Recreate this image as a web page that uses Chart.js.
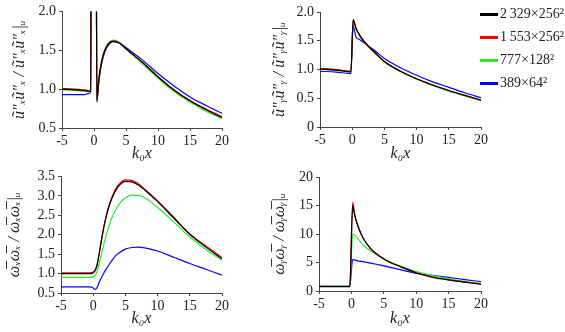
<!DOCTYPE html>
<html><head><meta charset="utf-8">
<script src="https://cdn.jsdelivr.net/npm/chart.js@4.4.1/dist/chart.umd.min.js"></script>
<style>
html,body{margin:0;padding:0;background:#fff;width:565px;height:332px;overflow:hidden;}
.box{position:absolute;}
.leg{position:absolute;font-family:"Liberation Serif","DejaVu Serif","Noto Serif",Times,FreeSerif,serif;font-size:14px;color:#222;line-height:14px;white-space:nowrap}
.legline{position:absolute;height:3px;width:18px}
</style></head><body>
<div class="box" style="left:0;top:0;width:280px;height:165px"><canvas id="c1" width="280" height="165"></canvas></div>
<div class="box" style="left:262px;top:0;width:303px;height:165px"><canvas id="c2" width="303" height="165"></canvas></div>
<div class="box" style="left:0;top:165px;width:280px;height:167px"><canvas id="c3" width="280" height="167"></canvas></div>
<div class="box" style="left:262px;top:165px;width:303px;height:167px"><canvas id="c4" width="303" height="167"></canvas></div>
<div id="legend"></div>
<script>
// ---- series / legend ----
const seriesNames = ['2\u2009329×256²', '1\u2009553×256²', '777×128²', '389×64²'];
const seriesColors = ['#000000', '#ff0000', '#22ee22', '#0000ff'];

// ---- ticks ----
const xTickValues = [-5, 0, 5, 10, 15, 20];
const xTickLabels = ['-5', '0', '5', '10', '15', '20'];
const yTicksA = [0.5, 1.0, 1.5, 2.0];
const yLabelsA = ['0.5', '1.0', '1.5', '2.0'];
const yTicksB = [0, 0.5, 1.0, 1.5, 2.0];
const yLabelsB = ['0', '0.5', '1.0', '1.5', '2.0'];
const yTicksC = [0.5, 1.0, 1.5, 2.0, 2.5, 3.0, 3.5];
const yLabelsC = ['0.5', '1.0', '1.5', '2.0', '2.5', '3.0', '3.5'];
const yTicksD = [0, 5, 10, 15, 20];
const yLabelsD = ['0', '5', '10', '15', '20'];

// ---- panel A: u''x u''x ----
const xA = [-5, -3, -1.5, -0.8, -0.5, -0.45, 0.3, 0.45, 0.7, 1.0, 1.4, 1.9, 2.5, 3.0, 4.0, 5.0, 6.0, 7.5, 10, 12.5, 15, 17.5, 20];
const blackA = [1.00, 0.99, 0.98, 0.975, 0.97, 4, 4, 0.86, 1.08, 1.27, 1.43, 1.54, 1.60, 1.615, 1.59, 1.52, 1.45, 1.35, 1.16, 0.99, 0.85, 0.735, 0.635];
const redA   = [1.01, 1.00, 0.99, 0.98, 0.975, 4, 4, 0.85, 1.07, 1.26, 1.42, 1.53, 1.60, 1.62, 1.59, 1.52, 1.45, 1.35, 1.16, 0.99, 0.855, 0.745, 0.645];
const greenA = [0.99, 0.985, 0.975, 0.97, 0.97, 4, 4, 0.86, 1.09, 1.28, 1.44, 1.55, 1.615, 1.63, 1.60, 1.52, 1.44, 1.33, 1.14, 0.97, 0.835, 0.715, 0.62];
const blueA  = [0.93, 0.93, 0.93, 0.945, 0.965, 4, 4, 0.83, 1.05, 1.24, 1.40, 1.52, 1.59, 1.61, 1.595, 1.535, 1.47, 1.38, 1.20, 1.04, 0.90, 0.79, 0.69];

// ---- panel B: u''y u''y ----
const xB = [-5, -2.5, -0.2, 0.15, 0.6, 1.0, 1.5, 2.5, 3.5, 5, 7.5, 10, 12.5, 15, 17.5, 20];
const blackB = [1.01, 0.99, 0.96, 1.87, 1.72, 1.63, 1.54, 1.41, 1.30, 1.14, 0.97, 0.84, 0.73, 0.635, 0.55, 0.47];
const redB   = [1.02, 1.00, 0.97, 1.86, 1.71, 1.62, 1.53, 1.40, 1.29, 1.14, 0.97, 0.84, 0.73, 0.635, 0.55, 0.465];
const greenB = [1.01, 0.99, 0.965, 1.86, 1.71, 1.62, 1.53, 1.40, 1.29, 1.13, 0.96, 0.83, 0.72, 0.625, 0.54, 0.455];
const blueB  = [0.97, 0.955, 0.93, 1.76, 1.56, 1.53, 1.49, 1.41, 1.33, 1.19, 1.03, 0.90, 0.785, 0.69, 0.595, 0.51];

// ---- panel C: wx wx ----
const xC = [-5, -2.5, -0.5, 0, 0.3, 0.6, 1.0, 1.5, 2.0, 2.5, 3.0, 3.5, 4.0, 5.0, 6.0, 7.0, 8.0, 10, 12.5, 15, 17.5, 20];
const blackC = [1.00, 1.00, 1.00, 1.02, 1.08, 1.22, 1.58, 2.06, 2.45, 2.75, 2.97, 3.14, 3.26, 3.37, 3.36, 3.28, 3.15, 2.85, 2.43, 2.01, 1.68, 1.38];
const redC   = [1.02, 1.02, 1.02, 1.04, 1.09, 1.22, 1.58, 2.07, 2.47, 2.78, 3.00, 3.18, 3.30, 3.41, 3.40, 3.31, 3.17, 2.87, 2.45, 2.02, 1.71, 1.41];
const greenC = [0.90, 0.90, 0.90, 0.92, 0.96, 1.06, 1.30, 1.65, 1.97, 2.25, 2.47, 2.64, 2.78, 2.95, 3.02, 3.01, 2.95, 2.70, 2.33, 1.94, 1.62, 1.34];
const blueC  = [0.66, 0.66, 0.66, 0.63, 0.59, 0.64, 0.80, 0.97, 1.11, 1.24, 1.36, 1.46, 1.53, 1.63, 1.67, 1.68, 1.66, 1.58, 1.42, 1.26, 1.11, 0.96];

// ---- panel D: wy wy ----
const xD = [-5, -2.5, -0.25, 0.2, 0.5, 1.0, 1.5, 2.0, 3.0, 4.0, 5.0, 6.0, 7.5, 10, 12.5, 15, 17.5, 20];
const blackD = [0.8, 0.8, 0.8, 15.0, 13.3, 11.4, 10.0, 8.9, 7.4, 6.4, 5.6, 5.0, 4.3, 3.2, 2.45, 1.95, 1.55, 1.20];
const redD   = [0.8, 0.8, 0.8, 15.6, 13.5, 11.5, 10.0, 8.9, 7.4, 6.4, 5.6, 5.0, 4.3, 3.15, 2.4, 1.95, 1.55, 1.22];
const greenD = [0.78, 0.78, 0.78, 10.0, 9.8, 9.2, 8.5, 7.9, 7.0, 6.3, 5.7, 5.1, 4.4, 3.4, 2.7, 2.15, 1.7, 1.32];
const blueD  = [0.75, 0.75, 0.75, 5.55, 5.45, 5.3, 5.2, 5.1, 4.9, 4.65, 4.4, 4.15, 3.75, 3.1, 2.75, 2.4, 2.0, 1.64];

const FONT = '"Liberation Serif", "DejaVu Serif", "Noto Serif", Times, FreeSerif, serif';
const AXIS_COLOR = '#444';
const TEXT_COLOR = '#222';

function makePanel(id, box, area, xs, ys, yTicks, yLabels, yMin, yMax, yTitle, yTitlePad, xTitlePad) {
  const datasets = ys.map((arr, k) => ({
    label: seriesNames[k],
    data: arr.map((v, i) => ({x: xs[i], y: v})),
    borderColor: seriesColors[k],
    backgroundColor: seriesColors[k],
    borderWidth: 1.2,
    pointRadius: 0,
    fill: false,
    cubicInterpolationMode: 'monotone'
  }));
  return new Chart(document.getElementById(id), {
    type: 'line',
    data: {datasets},
    options: {
      responsive: false,
      animation: false,
      devicePixelRatio: 1,
      layout: {padding: {left: 0, bottom: 0, top: area.t - box.t, right: box.l + box.w - area.r}},
      plugins: {legend: {display: false}, tooltip: {enabled: false}},
      scales: {
        x: {
          type: 'linear', min: -5, max: 20,
          afterBuildTicks: s => { s.ticks = xTickValues.map(v => ({value: v})); },
          afterFit: s => { s.height = box.t + box.h - area.b; },
          ticks: {callback: (v, i) => xTickLabels[i], font: {family: FONT, size: 14}, color: TEXT_COLOR, padding: 2, maxRotation: 0, autoSkip: false},
          grid: {display: true, drawOnChartArea: false, drawTicks: true, tickLength: 3, color: AXIS_COLOR},
          border: {display: true, color: AXIS_COLOR, width: 1},
          title: {display: true, text: 'k₀x', font: {family: FONT, size: 16, style: 'italic', lineHeight: 1.2}, color: TEXT_COLOR, padding: {top: 0, bottom: xTitlePad}}
        },
        y: {
          type: 'linear', min: yMin, max: yMax,
          afterBuildTicks: s => { s.ticks = yTicks.map(v => ({value: v})); },
          afterFit: s => { s.width = area.l - box.l; },
          ticks: {callback: (v, i) => yLabels[i], font: {family: FONT, size: 14}, color: TEXT_COLOR, padding: 3, autoSkip: false},
          grid: {display: true, drawOnChartArea: false, drawTicks: true, tickLength: 3, color: AXIS_COLOR},
          border: {display: true, color: AXIS_COLOR, width: 1},
          title: {display: true, text: yTitle, font: {family: FONT, size: 16, style: 'italic', lineHeight: 1.2}, color: TEXT_COLOR, padding: {top: yTitlePad, bottom: 0}}
        }
      }
    }
  });
}

makePanel('c1', {l: 0, t: 0, w: 280, h: 165}, {l: 62, t: 10, r: 222, b: 128},
  xA, [blackA, redA, greenA, blueA], yTicksA, yLabelsA, 0.5, 2.0,
  'ũ″ₓũ″ₓ / ũ″ₓũ″ₓ|ᵤ', 10, 1.6);
makePanel('c2', {l: 262, t: 0, w: 303, h: 165}, {l: 320, t: 12, r: 481, b: 127},
  xB, [blackB, redB, greenB, blueB], yTicksB, yLabelsB, 0, 2.0,
  'ũ″ᵧũ″ᵧ / ũ″ᵧũ″ᵧ|ᵤ', 8, 1.6);
makePanel('c3', {l: 0, t: 165, w: 280, h: 167}, {l: 61, t: 175, r: 222, b: 293},
  xC, [blackC, redC, greenC, blueC], yTicksC, yLabelsC, 0.5, 3.5,
  'ω̅ₓω̅ₓ / ω̅ₓω̅ₓ|ᵤ', 5, 3.6);
makePanel('c4', {l: 262, t: 165, w: 303, h: 167}, {l: 319, t: 177, r: 481, b: 291},
  xD, [blackD, redD, greenD, blueD], yTicksD, yLabelsD, 0, 20,
  'ω̅ᵧω̅ᵧ / ω̅ᵧω̅ᵧ|ᵤ', 8, 3.6);

// ---- legend (HTML) ----
const legendRowsY = [14, 37, 60, 83];
const leg = document.getElementById('legend');
seriesNames.forEach((name, k) => {
  const ln = document.createElement('div');
  ln.className = 'legline';
  ln.style.left = '480px';
  ln.style.top = (legendRowsY[k] - 1.5) + 'px';
  ln.style.background = seriesColors[k];
  leg.appendChild(ln);
  const tx = document.createElement('div');
  tx.className = 'leg';
  tx.style.left = '500px';
  tx.style.top = (legendRowsY[k] - 7) + 'px';
  tx.textContent = name;
  leg.appendChild(tx);
});
</script>
</body></html>
